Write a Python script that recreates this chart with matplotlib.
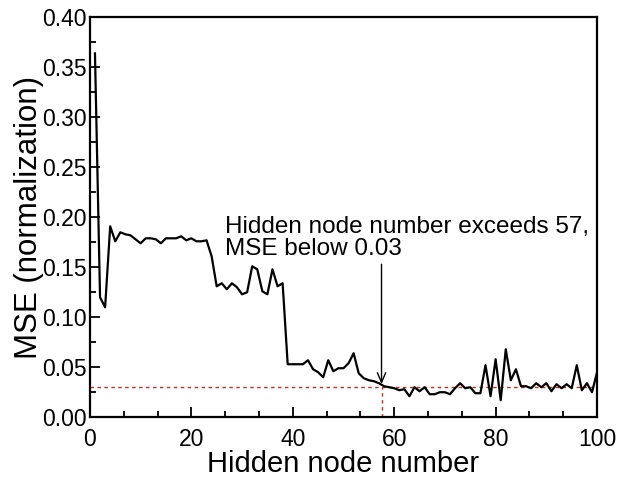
import matplotlib
matplotlib.use("Agg")
import matplotlib.pyplot as plt
from matplotlib.ticker import MultipleLocator, AutoMinorLocator, FormatStrFormatter

plt.rcParams['font.family'] = ['Liberation Sans', 'DejaVu Sans']

nodes = list(range(1, 101))
mse = [
    0.364, 0.120, 0.110, 0.191, 0.176, 0.185, 0.183, 0.182, 0.178, 0.174,
    0.179, 0.179, 0.178, 0.174, 0.179, 0.179, 0.179, 0.181, 0.177, 0.179,
    0.176, 0.176, 0.177, 0.161, 0.131, 0.134, 0.128, 0.134, 0.130, 0.123,
    0.125, 0.151, 0.148, 0.126, 0.123, 0.148, 0.131, 0.134, 0.053, 0.053,
    0.053, 0.053, 0.057, 0.048, 0.045, 0.040, 0.057, 0.046, 0.049, 0.049,
    0.054, 0.064, 0.044, 0.039, 0.037, 0.036, 0.034, 0.031, 0.030, 0.029,
    0.027, 0.028, 0.021, 0.030, 0.026, 0.030, 0.023, 0.023, 0.025, 0.025,
    0.023, 0.029, 0.034, 0.029, 0.030, 0.024, 0.024, 0.052, 0.021, 0.058,
    0.017, 0.068, 0.037, 0.048, 0.031, 0.031, 0.029, 0.034, 0.030, 0.034,
    0.026, 0.033, 0.029, 0.033, 0.029, 0.052, 0.027, 0.034, 0.025, 0.045,
]
threshold_mse = 0.03
threshold_node = 57.5
annot_text = "Hidden node number exceeds 57,\nMSE below 0.03"

fig = plt.figure(figsize=(6.2, 4.84), dpi=100)
ax = fig.add_axes([0.145, 0.138, 0.818, 0.826])

ax.plot(nodes, mse, color='black', lw=1.6, zorder=3)
ax.plot([0, 100], [threshold_mse, threshold_mse], color='#b5332a', lw=1.0,
        ls=(0, (2.5, 2.5)), zorder=2)
ax.plot([threshold_node, threshold_node], [0, threshold_mse],
        color='#b5332a', lw=1.0, ls=(0, (2.5, 2.5)), zorder=2)

ax.annotate('', xy=(57.5, 0.033), xytext=(57.5, 0.153),
            arrowprops=dict(arrowstyle='->,head_length=0.7,head_width=0.3',
                            color='black', lw=1.0, shrinkA=0, shrinkB=0))
ax.text(26.7, 0.2015, annot_text, fontsize=17.5, va='top', ha='left',
        linespacing=1.0)

ax.set_xlim(0, 100)
ax.set_ylim(0, 0.40)
ax.xaxis.set_major_locator(MultipleLocator(20))
ax.xaxis.set_minor_locator(AutoMinorLocator(3))
ax.yaxis.set_major_locator(MultipleLocator(0.05))
ax.yaxis.set_minor_locator(AutoMinorLocator(2))
ax.yaxis.set_major_formatter(FormatStrFormatter('%.2f'))
ax.tick_params(which='both', direction='in', top=False, right=False,
               labelsize=16.5, width=1.3)
ax.tick_params(axis='y', which='both', pad=2)
ax.tick_params(axis='x', which='both', pad=8)
ax.tick_params(which='major', length=7)
ax.tick_params(which='minor', length=4)
for s in ax.spines.values():
    s.set_linewidth(1.6)

ax.set_xlabel('Hidden node number', fontsize=21, labelpad=-1)
ax.set_ylabel('MSE (normalization)', fontsize=22.5, labelpad=-1)

fig.savefig('out.png', dpi=100)
